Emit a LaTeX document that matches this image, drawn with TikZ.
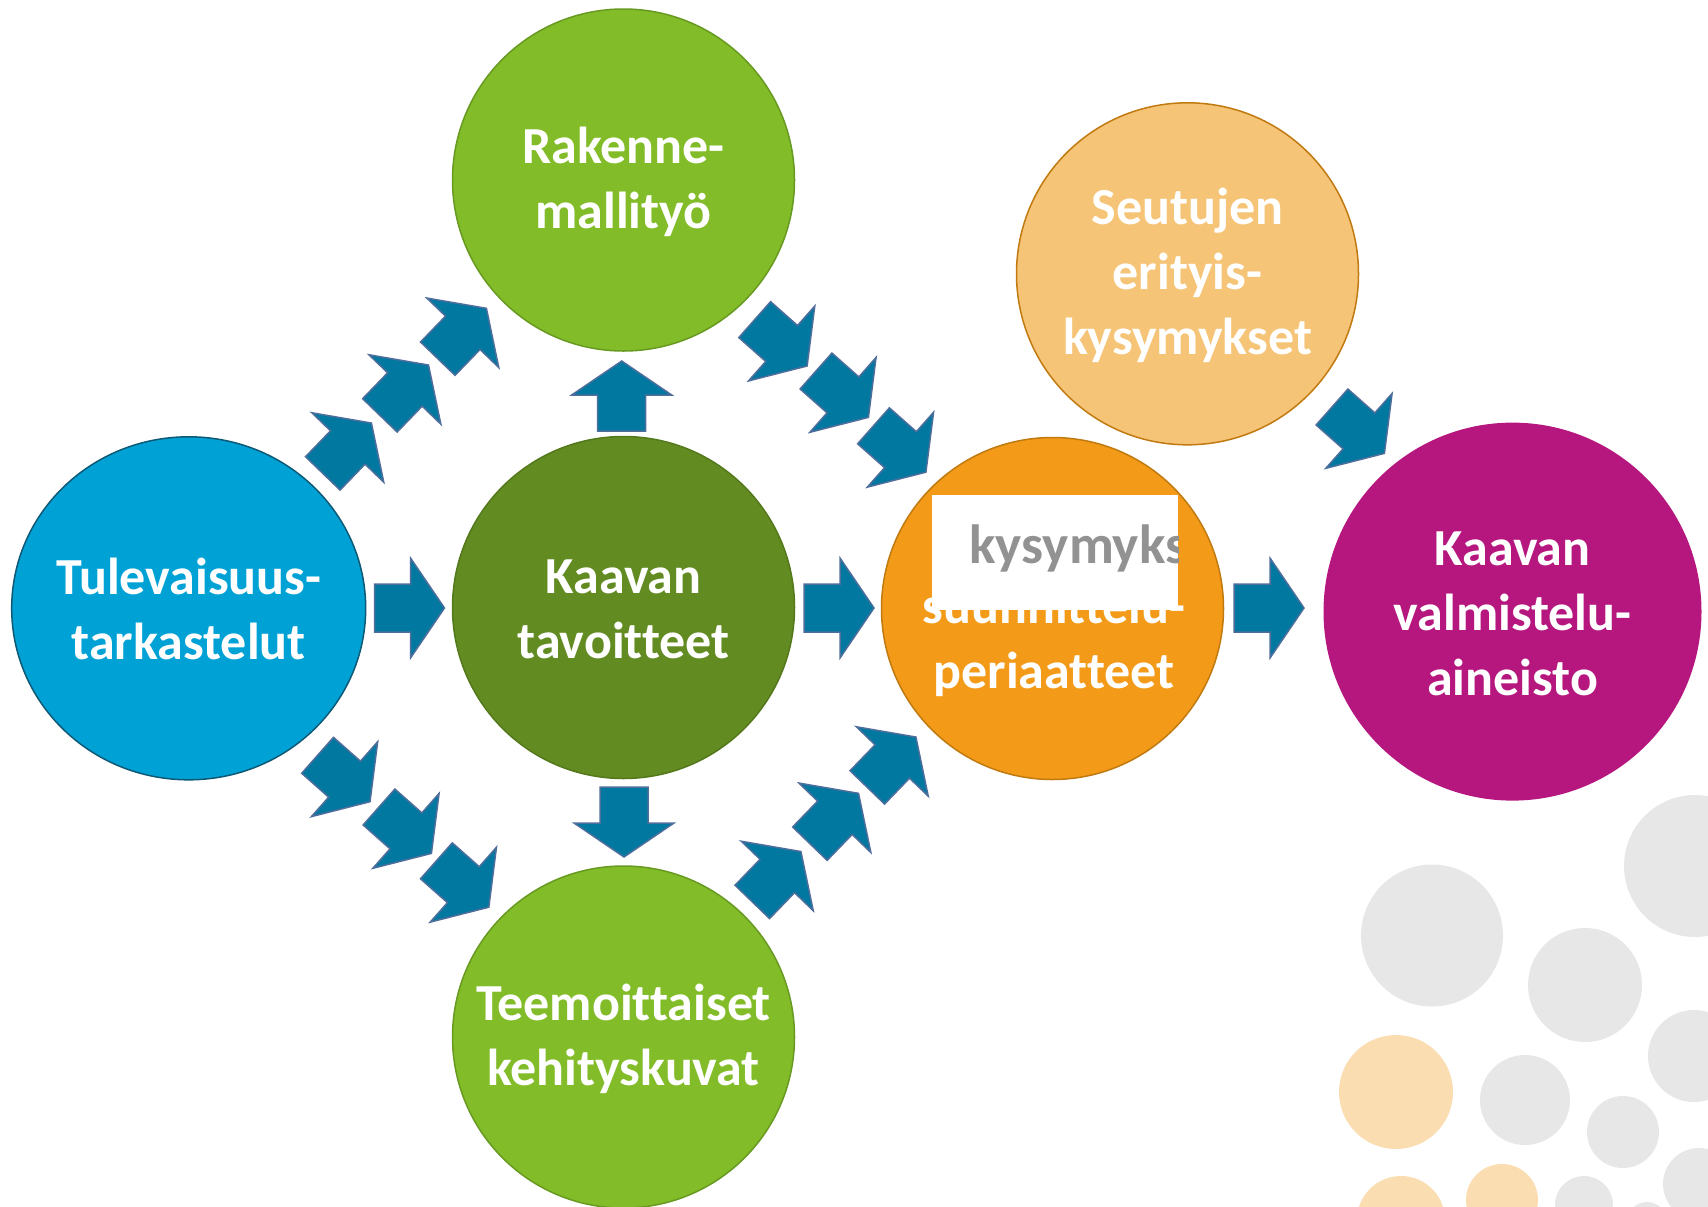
\documentclass[tikz,border=0pt]{standalone}
\usepackage{fontspec}
\setmainfont{Carlito}[Ligatures=NoCommon]
\usetikzlibrary{shapes.geometric}

\definecolor{tulblue}{RGB}{0,162,214}
\definecolor{tulline}{RGB}{14,90,118}
\definecolor{darkgrn}{RGB}{98,139,34}
\definecolor{darkgrnline}{RGB}{84,120,28}
\definecolor{litegrn}{RGB}{130,188,40}
\definecolor{litegrnline}{RGB}{104,154,34}
\definecolor{suuorange}{RGB}{243,154,24}
\definecolor{orangeline}{RGB}{192,122,16}
\definecolor{seuorange}{RGB}{246,196,119}
\definecolor{kaamagenta}{RGB}{181,23,127}
\definecolor{arrfill}{RGB}{0,120,160}
\definecolor{arrline}{RGB}{79,110,156}
\definecolor{dotgray}{RGB}{231,231,231}
\definecolor{dotorange}{RGB}{250,221,177}
\definecolor{kysgray}{RGB}{146,146,146}

\tikzset{
  ball/.style={circle, minimum size=171pt, inner sep=0pt, line width=0.75pt,
    font=\bfseries\fontsize{26pt}{32.5pt}\selectfont, text=white, align=center},
  lbl/.style={font=\bfseries\fontsize{26pt}{32.5pt}\selectfont, text=white, align=center, inner sep=0pt},
  blockarrow/.pic={
    \draw[fill=arrfill, draw=arrline, line width=0.75pt, line join=miter]
      (-35,-24) -- (1,-24) -- (1,-50) -- (35,0) -- (1,50) -- (1,24) -- (-35,24) -- cycle;
  }
}
\newcommand{\topstr}{\rule{0pt}{20pt}}
\newcommand{\botstr}{\rule[-1.5pt]{0pt}{1.5pt}}

\begin{document}
\begin{tikzpicture}[x=0.5pt,y=0.5pt,yscale=-1,xscale=1]
    \useasboundingbox (0,0) rectangle (1708,1206);
    \clip (0,0) rectangle (1708,1206);

    %Shape: Dots in the corner
    \fill[dotgray] (1432,935.5) circle (71);
    \fill[dotgray] (1695,866) circle (71);
    \fill[dotgray] (1585,985) circle (57);
    \fill[dotgray] (1694,1056) circle (46);
    \fill[dotgray] (1525,1100) circle (45);
    \fill[dotgray] (1623,1132) circle (36);
    \fill[dotgray] (1699,1184) circle (36);
    \fill[dotgray] (1584,1205) circle (29);
    \fill[dotgray] (1647,1222) circle (20);
    \fill[dotorange] (1396,1092) circle (57);
    \fill[dotorange] (1401,1220) circle (44);
    \fill[dotorange] (1502,1200) circle (36);

    %Shape: Circles
    \node[ball, ellipse, minimum width=177pt, minimum height=171.5pt, fill=tulblue, draw=tulline] (tul) at (188.7,608.3) {};
    \node[ball, fill=darkgrn, draw=darkgrnline] (tav) at (623.5,607.5) {\topstr Kaavan\\tavoitteet\botstr};
    \node[ball, fill=litegrn, draw=litegrnline] (rak) at (623.5,180) {\topstr Rakenne-\\mallityö\botstr};
    \node[ball, fill=litegrn, draw=litegrnline] (tee) at (623.5,1037) {\topstr Teemoittaiset\\kehityskuvat\botstr};
    \node[ball, fill=suuorange, draw=orangeline] (suu) at (1052.5,608.5) {};
    \node[ball, fill=seuorange, draw=orangeline] (seu) at (1187.5,273.8) {\topstr Seutujen\\erityis-\\kysymykset\botstr};
    \node[ball, minimum size=189pt, fill=kaamagenta] (kaa) at (1512.5,611.6) {\topstr Kaavan\\valmistelu-\\aineisto\botstr};

    % Text Node
    \node[lbl] (tultxt) at (tul.center) {\topstr Tulevaisuus-\\tarkastelut\botstr};
    % Text Node
    \node[lbl] (suutxt) at (1054,640) {\topstr suunnittelu-\\periaatteet\botstr};

    %Shape: Block arrows, straight
    \pic at (409.5,608) {blockarrow};
    \pic at (839,608) {blockarrow};
    \pic at (1269,608) {blockarrow};
    \pic[rotate=90] at (621.7,396) {blockarrow};
    \pic[rotate=-90] at (624,822) {blockarrow};

    %Shape: Block arrows, up to the right
    \pic[rotate=46] at (347.1,448.2) {blockarrow};
    \pic[rotate=46] at (404.2,390.2) {blockarrow};
    \pic[rotate=46] at (462.1,333.5) {blockarrow};
    \pic[rotate=46] at (776.6,876.7) {blockarrow};
    \pic[rotate=46] at (834.2,818.5) {blockarrow};
    \pic[rotate=46] at (891.6,762.2) {blockarrow};

    %Shape: Block arrows, down to the right
    \pic[rotate=-41.5] at (343.8,778.5) {blockarrow};
    \pic[rotate=-41.5] at (405.2,830.2) {blockarrow};
    \pic[rotate=-41.5] at (462.6,884) {blockarrow};
    \pic[rotate=-41.5] at (780.9,342.8) {blockarrow};
    \pic[rotate=-41.5] at (842.2,394.2) {blockarrow};
    \pic[rotate=-41.5] at (899.7,449) {blockarrow};
    \pic[rotate=-41.5] at (1358.2,430.2) {blockarrow};

    %Shape: White patch over the orange circle
    \fill[white] (932,495) rectangle (1178,610);
    \begin{scope}
      \clip (932,495) rectangle (1178,610);
      % Text Node
      \node[lbl, font=\bfseries\fontsize{27.6pt}{33pt}\selectfont, text=kysgray, anchor=base west] (kys) at (969,563) {kysymykset};
    \end{scope}

\end{tikzpicture}
\end{document}
